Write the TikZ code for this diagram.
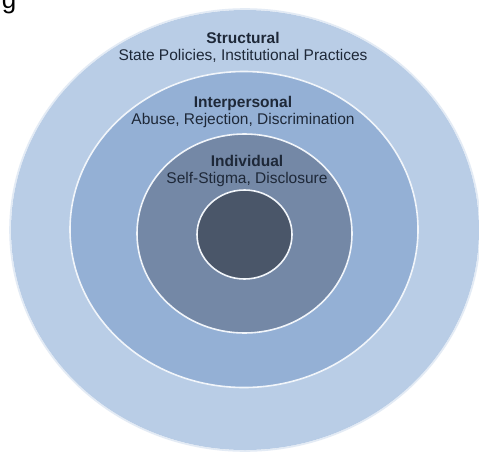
\documentclass[tikz,border=0pt]{standalone}
\usepackage{fontspec}
\setmainfont{Liberation Sans}
\definecolor{ringA}{HTML}{B9CDE6}
\definecolor{ringB}{HTML}{94B0D5}
\definecolor{ringC}{HTML}{7488A6}
\definecolor{ringD}{HTML}{4A5669}
\definecolor{txt}{HTML}{1E2838}
\begin{document}
\begin{tikzpicture}[x=1pt,y=-1pt,
  ring/.style={draw=white!80!ringA, line width=1.6pt},
  title/.style={text=txt, font=\fontsize{15.5}{17}\selectfont\bfseries, inner sep=0pt, anchor=center},
  sub/.style={text=txt, font=\fontsize{15.5}{17}\selectfont, inner sep=0pt, anchor=center}]
\useasboundingbox (0,0) rectangle (479,458);
\clip (0,0) rectangle (479,458);
\fill[white] (0,0) rectangle (479,458);
\node[text=black, font=\fontsize{26}{28}\selectfont, inner sep=0pt, anchor=base] (fig) at (9,8) {g};
\draw[ring, draw=white!60!ringA] (245,230) ellipse [x radius=235, y radius=221];
\fill[ringA] (245,230) ellipse [x radius=234, y radius=220];
\draw[ring, fill=ringB] (244,229.5) ellipse [x radius=174, y radius=158];
\draw[ring, fill=ringC] (244.5,233.5) ellipse [x radius=107.5, y radius=99.5];
\draw[ring, fill=ringD] (244.5,234.5) ellipse [x radius=47.5, y radius=44.5];
\node[title] (s1) at (243,38) {Structural};
\node[sub] (s2) at (243,56) {State Policies, Institutional Practices};
\node[title] (p1) at (243,103) {Interpersonal};
\node[sub] (p2) at (243,120) {Abuse, Rejection, Discrimination};
\node[title] (i1) at (247,161) {Individual};
\node[sub] (i2) at (247,179) {Self-Stigma, Disclosure};
\end{tikzpicture}
\end{document}
